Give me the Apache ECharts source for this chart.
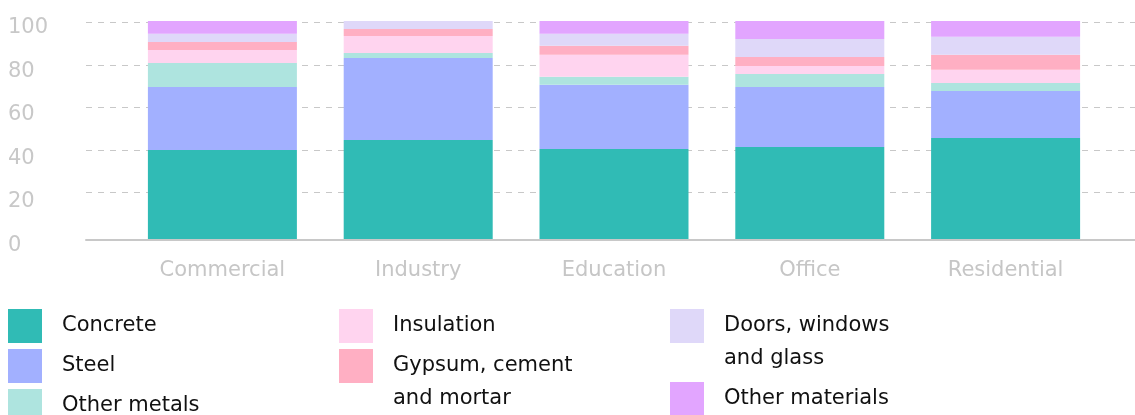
<!DOCTYPE html>
<html>
<head>
<meta charset="utf-8">
<script src="https://cdn.jsdelivr.net/npm/echarts@6/dist/echarts.min.js"></script>
<style>
html,body{margin:0;padding:0;background:#fff;}
#chart{width:1135px;height:415px;}
</style>
</head>
<body>
<div id="chart"></div>
<script>
// ---- data ----
const categories = ['Commercial', 'Industry', 'Education', 'Office', 'Residential'];
const yTicks = [0, 20, 40, 60, 80, 100];
const concrete       = [40.8, 45.4, 41.3, 42.2, 46.3];
const steel          = [28.9, 37.6, 29.4, 27.5, 21.6];
const otherMetals    = [11.0, 2.3, 3.7, 6.0, 3.7];
const insulation     = [6.0, 7.8, 10.1, 3.7, 6.0];
const gypsum         = [3.7, 3.2, 4.1, 4.1, 6.9];
const doorsWindows   = [3.7, 3.7, 5.5, 8.3, 8.3];
const otherMaterials = [6.0, 0, 6.0, 8.3, 7.3];

const seriesNames = ['Concrete', 'Steel', 'Other metals', 'Insulation',
  'Gypsum, cement and mortar', 'Doors, windows and glass', 'Other materials'];
const seriesData = [concrete, steel, otherMetals, insulation, gypsum, doorsWindows, otherMaterials];
const colors = ['#30bbb5', '#a2b0ff', '#aee4df', '#ffd4ef', '#ffafc3', '#dfd8f9', '#e2a5ff'];
const legendLabels = {
  'Gypsum, cement and mortar': 'Gypsum, cement\nand mortar',
  'Doors, windows and glass': 'Doors, windows\nand glass'
};

const FONT = 'DejaVu Sans';
const chart = echarts.init(document.getElementById('chart'), null, {renderer: 'canvas'});

// legend placement: [left, top] of each square
const legendPos = [[8, 309], [8, 349], [8, 389], [339, 309], [339, 349], [670, 309], [670, 382]];

const legends = seriesNames.map((name, i) => {
  const twoLine = !!legendLabels[name];
  return {
    data: [name],
    left: legendPos[i][0],
    top: legendPos[i][1],
    orient: 'vertical',
    padding: 0,
    itemWidth: 34,
    itemHeight: twoLine ? 67 : 34,
    // square swatch at the top of a taller item for two-line labels
    icon: twoLine ? 'path://M0,0h34v34h-34z M0,67' : 'rect',
    selectedMode: false,
    formatter: (n) => legendLabels[n] || n,
    textStyle: {
      fontFamily: FONT,
      fontSize: 21,
      color: '#111111',
      lineHeight: 33,
      padding: [0, 0, 0, 15]
    }
  };
});

const option = {
  animation: false,
  backgroundColor: '#ffffff',
  color: colors,
  legend: legends,
  grid: [
    {left: 86, right: 0, top: 22.7, bottom: 180.5},
    {left: 124.5, right: 31.5, top: 21, bottom: 176}
  ],
  xAxis: [
    {
      gridIndex: 0, type: 'value', min: 0, max: 1,
      offset: 5.5,
      axisLine: {show: true, onZero: false, lineStyle: {color: '#c8c8c8', width: 2}},
      axisTick: {show: false}, axisLabel: {show: false}, splitLine: {show: false}
    },
    {
      gridIndex: 1, type: 'category', data: categories,
      axisLine: {show: false}, axisTick: {show: false},
      axisLabel: {color: '#c6c6c6', fontFamily: FONT, fontSize: 21, lineHeight: 24, margin: 20}
    }
  ],
  yAxis: [
    {
      gridIndex: 0, type: 'value', min: yTicks[0], max: yTicks[yTicks.length - 1], interval: 20,
      axisLine: {show: false}, axisTick: {show: false}, axisLabel: {show: false},
      splitLine: {show: true, showMinLine: false, lineStyle: {color: '#c8c8c8', width: 1, type: [6, 6]}}
    },
    {
      gridIndex: 1, type: 'value', min: yTicks[0], max: yTicks[yTicks.length - 1], interval: 20,
      axisLine: {show: false}, axisTick: {show: false}, splitLine: {show: false},
      axisLabel: {
        color: '#c8c8c8', fontFamily: FONT, fontSize: 21, align: 'left', margin: 116.5,
        verticalAlign: 'top', lineHeight: 13
      }
    }
  ],
  series: seriesNames.map((name, i) => ({
    name: name,
    type: 'bar',
    stack: 'total',
    xAxisIndex: 1,
    yAxisIndex: 1,
    barWidth: 149,
    itemStyle: {color: colors[i]},
    emphasis: {disabled: true},
    data: seriesData[i]
  }))
};

chart.setOption(option);
</script>
</body>
</html>
